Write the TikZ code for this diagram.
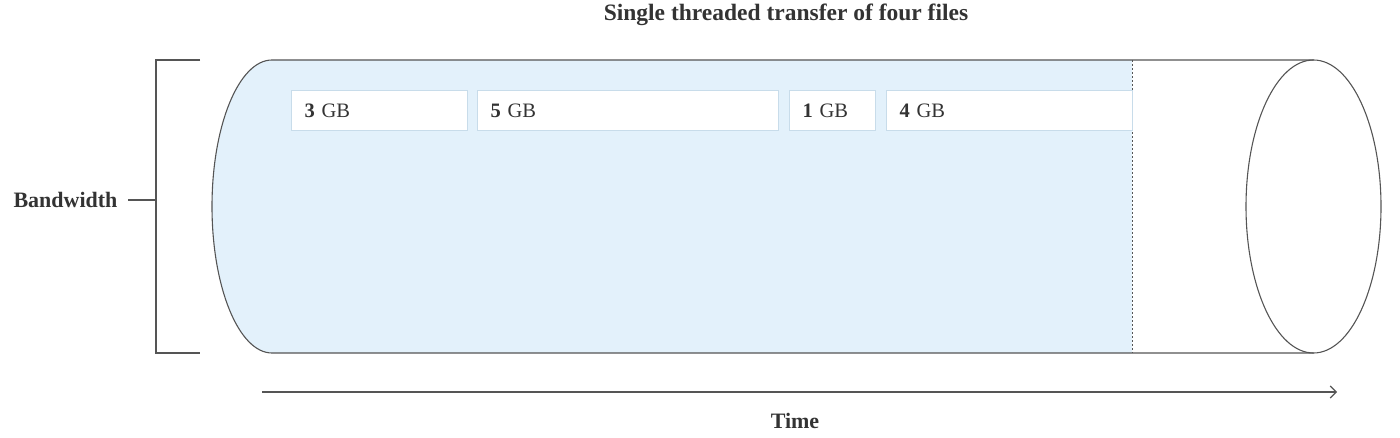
\documentclass[tikz,border=0pt]{standalone}
\usepackage{fontspec}
\setmainfont{Liberation Serif}
\usetikzlibrary{arrows.meta}
\definecolor{ln}{HTML}{555555}
\definecolor{txt}{HTML}{333333}
\definecolor{pipefill}{HTML}{E3F1FB}
\definecolor{boxline}{HTML}{C8DCEA}
\tikzset{
  outline/.style={draw=ln, line width=1.1pt},
  filebox/.style={draw=boxline, fill=white, line width=1pt, minimum height=40pt, inner xsep=13pt, inner ysep=0pt, align=left, anchor=west, font=\fontsize{20.5}{24}\selectfont, text=txt},
  lbl/.style={font=\bfseries\fontsize{22}{26}\selectfont, text=txt},
}
\begin{document}
\begin{tikzpicture}[x=1pt,y=1pt]
\useasboundingbox (0,0) rectangle (1400,437);
% filled part of the pipe
\fill[pipefill] (1132,377) -- (272,377) arc[start angle=90, end angle=270, x radius=60, y radius=146.5] -- (1132,84) -- cycle;
% pipe outline
\draw[outline] (1313.5,377) -- (272,377) arc[start angle=90, end angle=270, x radius=60, y radius=146.5] -- (1313.5,84);
\draw[outline] (1313.5,230.5) ellipse[x radius=67.5, y radius=146.5];
\draw[ln, line width=1pt, dash pattern=on 2pt off 2pt] (1132,377) -- (1132,84);
% file boxes
\node[filebox, text width=150pt] (f3) at (291,326) {\textbf{3} GB};
\node[filebox, text width=275pt] (f5) at (477,326) {\textbf{5} GB};
\node[filebox, text width=60pt] (f1) at (789,326) {\textbf{1} GB};
\node[filebox, text width=220pt] (f4) at (886,326) {\textbf{4} GB};
% title
\node[lbl, font=\bfseries\fontsize{23.5}{28}\selectfont] (title) at (786,422) {Single threaded transfer of four files};
% bandwidth bracket
\draw[outline] (200,377) -- (156,377) -- (156,84) -- (200,84);
\node[lbl, anchor=east] (bw) at (121,237) {Bandwidth};
\coordinate (bwt) at (156,237);
\draw[outline] (128,237) -- (bwt);
% time arrow
\coordinate (t0) at (262,45);
\coordinate (t1) at (1337,45);
\draw[outline, -{Straight Barb[length=6pt, width=12pt]}] (t0) -- (t1);
\node[lbl] (time) at (795,16) {Time};
\end{tikzpicture}
\end{document}
